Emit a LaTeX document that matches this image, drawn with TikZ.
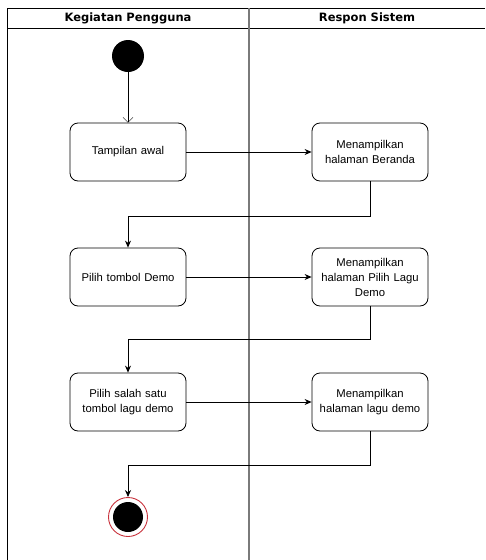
\documentclass[tikz,border=0pt]{standalone}
\usepackage{fontspec}
\setmainfont{Liberation Sans}
\newfontfamily\headfont{DejaVu Sans}
\usetikzlibrary{arrows.meta,positioning}
\definecolor{lanegrey}{HTML}{7A7A7A}
\definecolor{endred}{HTML}{C8323C}

\begin{document}
\begin{tikzpicture}[x=1pt, y=-1pt,
    every node/.style={font=\fontsize{11.3}{15}\selectfont},
    lanehead/.style={font=\headfont\bfseries\fontsize{11.5}{13}\selectfont},
    action/.style={draw, thick, rounded corners=8pt, minimum width=116pt, minimum height=58pt, text width=110pt, inner sep=0pt, align=center},
    flow/.style={thick, -{Stealth[length=7pt, width=6pt]}},
]
\useasboundingbox (0,0) rectangle (485,560);

% Swimlanes
\draw[thick] (485,8) -- (7.5,8) -- (7.5,560);
\draw[thick] (7.5,28) -- (485,28);
\draw[lanegrey, line width=1.6pt] (249,8) -- (249,560);
\node[lanehead] (userlane) at (128,18) {Kegiatan Pengguna};
\node[lanehead] (syslane) at (367,18) {Respon Sistem};

% Start and end
\node[circle, fill=black, minimum size=32pt, inner sep=0pt] (start) at (128,56) {};
\node[circle, draw=endred, line width=0.9pt, minimum size=39pt, inner sep=0pt,
      path picture={\fill[black] (path picture bounding box.center) circle (15pt);}] (stop) at (128,517) {};

% Actions
\node[action] (awal) at (128,152) {Tampilan awal};
\node[action] (beranda) at (370,152) {Menampilkan\\halaman Beranda};
\node[action] (demo) at (128,277) {Pilih tombol Demo};
\node[action] (pilihlagu) at (370,277) {Menampilkan\\halaman Pilih Lagu\\Demo};
\node[action] (lagu) at (128,402) {Pilih salah satu\\tombol lagu demo};
\node[action] (halamanlagu) at (370,402) {Menampilkan\\halaman lagu demo};

% Flow
\draw[-{Straight Barb[length=5pt, width=10pt]}] (start) -- (awal);
\draw[flow] (awal) -- (beranda);
\draw[flow] (beranda.south) -- ++(0,35) -| (demo.north);
\draw[flow] (demo) -- (pilihlagu);
\draw[flow] (pilihlagu.south) -- ++(0,33) -| (lagu.north);
\draw[flow] (lagu) -- (halamanlagu);
\draw[flow] (halamanlagu.south) -- ++(0,34) -| (stop.north);

\end{tikzpicture}
\end{document}
